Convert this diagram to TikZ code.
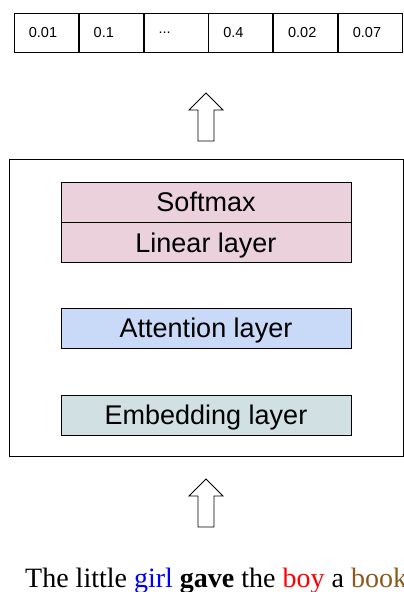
\documentclass[tikz,border=0pt]{standalone}
\usepackage{fontspec}
\setmainfont{Liberation Sans}
\newfontfamily\sentfont{Liberation Serif}
\usepackage{xcolor}
\definecolor{softpink}{HTML}{EAD1DC}
\definecolor{attblue}{HTML}{C9DAF8}
\definecolor{embcyan}{HTML}{D0E0E3}
\definecolor{bookbrown}{HTML}{8B5A1E}
\usetikzlibrary{positioning}

\begin{document}
\begin{tikzpicture}[x=1pt,y=-1pt,
  cell/.style={draw,line width=0.8pt,minimum height=39pt,text width=35pt,inner xsep=14.5pt,align=left,font=\fontsize{14.5}{16}\selectfont,anchor=west},
  layer/.style={draw,line width=0.8pt,minimum width=290pt,minimum height=40pt,inner sep=0pt,text height=19.5pt,text depth=0pt,font=\fontsize{27}{30}\selectfont},
  bigarrow/.style={draw,line width=0.8pt,fill=white}]
 \useasboundingbox (0,0) rectangle (404,592);

 % output probabilities
 \node[cell] (p1) at (14,32.5) {0.01};
 \node[cell,right=0pt of p1] (p2) {0.1};
 \node[cell,right=0pt of p2] (p3) {...};
 \node[cell,right=0pt of p3] (p4) {0.4};
 \node[cell,right=0pt of p4] (p5) {0.02};
 \node[cell,right=0pt of p5] (p6) {0.07};

 % model
 \node[draw,line width=0.8pt,minimum width=394pt,minimum height=297pt,inner sep=0pt] (model) at (206,307.5) {};
 \node[layer,fill=softpink] (softmax) at (206,202) {Softmax};
 \node[layer,fill=softpink,below=0pt of softmax] (linear) {Linear layer};
 \node[layer,fill=attblue] (attention) at (206,328) {Attention layer};
 \node[layer,fill=embcyan] (embedding) at (206,415) {Embedding layer};

 % block arrows
 \foreach \t in {93,479}{
  \draw[bigarrow] (206,\t) -- ++(17,17) -- ++(-9,0) -- ++(0,31) -- ++(-16,0) -- ++(0,-31) -- ++(-9,0) -- cycle;
 }

 % input sentence
 \node[anchor=base west,inner sep=0pt,font=\sentfont\fontsize{28}{30}\selectfont] (sentence) at (25,587)
  {The little \textcolor{blue}{girl} \textbf{gave} the \textcolor{red}{boy} a \textcolor{bookbrown}{book}};
\end{tikzpicture}
\end{document}
